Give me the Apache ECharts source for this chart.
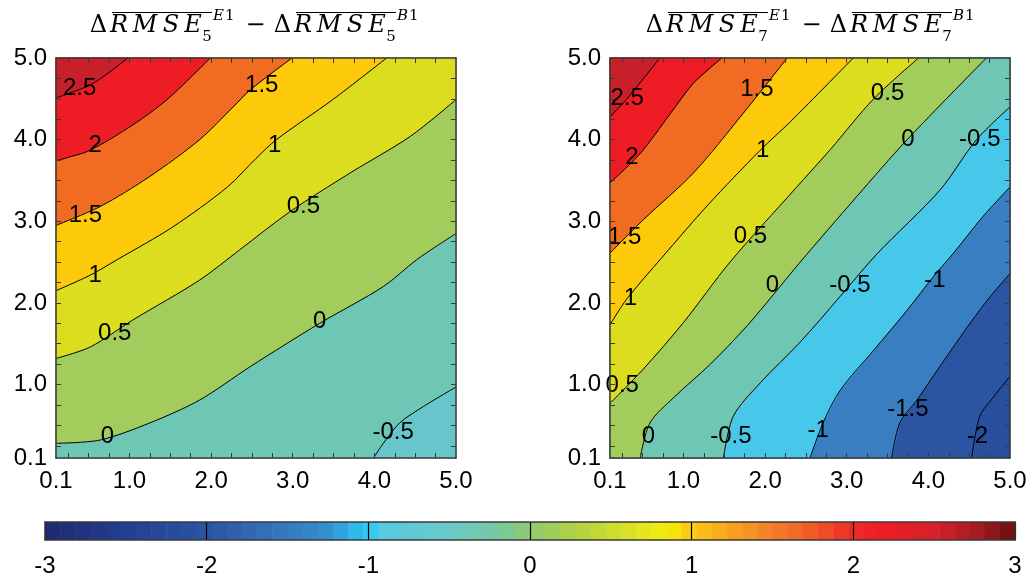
<!DOCTYPE html>
<html>
<head>
<meta charset="utf-8">
<script src="https://cdn.jsdelivr.net/npm/echarts@6/dist/echarts.min.js"></script>
<style>
  html, body { margin: 0; padding: 0; background: #ffffff; }
  #chart { width: 1032px; height: 580px; }
</style>
</head>
<body>
<div id="chart"></div>
<script>
// ---- axis ticks and labels ----
const axisLabelValues = [0.1, 1, 2, 3, 4, 5];
const axisTickValues = [0.25, 0.5, 0.75, 1, 1.25, 1.5, 1.75, 2, 2.25, 2.5, 2.75, 3, 3.25, 3.5, 3.75, 4, 4.25, 4.5, 4.75];
const colorbarLabels = [-3, -2, -1, 0, 1, 2, 3];

// ---- left panel: contour levels, traced contour lines [x, y], band colours ----
const leftLevels = [-0.5, 0, 0.5, 1, 1.5, 2, 2.5];
const leftLines = [
  [[3.99, 0.1], [4.11, 0.28], [4.31, 0.53], [4.6, 0.73], [5.0, 0.97]],
  [[0.1, 0.28], [0.64, 0.32], [1.25, 0.53], [1.86, 0.81], [2.48, 1.22], [3.33, 1.75], [4.11, 2.2], [4.52, 2.53], [5.0, 2.85]],
  [[0.1, 1.32], [0.52, 1.46], [1.04, 1.79], [1.86, 2.28], [2.35, 2.65], [2.97, 3.12], [3.7, 3.59], [4.44, 4.04], [5.0, 4.49]],
  [[0.1, 2.15], [0.52, 2.34], [0.85, 2.53], [1.53, 2.93], [2.2, 3.42], [2.55, 3.77], [2.8, 4.0], [3.49, 4.49], [4.15, 5.0]],
  [[0.1, 2.95], [0.64, 3.18], [1.25, 3.55], [1.86, 4.0], [2.27, 4.4], [2.48, 4.61], [2.99, 5.0]],
  [[0.1, 3.74], [0.24, 3.78], [0.52, 3.87], [1.04, 4.18], [1.46, 4.49], [1.99, 5.0]],
  [[0.1, 4.51], [0.27, 4.57], [0.52, 4.67], [0.76, 4.83], [0.98, 5.0]]
];
const leftBandColors = ['#66C6CC', '#6DC7B4', '#A2CC5B', '#DCDD1F', '#FCCA0A', '#F26B22', '#EE1D25', '#C8202A'];
const leftLabels = [
  [0.39, 4.63, '2.5'], [0.58, 3.93, '2'], [0.46, 3.07, '1.5'], [0.58, 2.34, '1'],
  [0.82, 1.63, '0.5'], [0.73, 0.36, '0'], [2.62, 4.67, '1.5'], [2.78, 3.93, '1'],
  [3.13, 3.18, '0.5'], [3.33, 1.77, '0'], [4.23, 0.41, '-0.5']
];

// ---- right panel ----
const rightLevels = [-2, -1.5, -1, -0.5, 0, 0.5, 1, 1.5, 2, 2.5];
const rightLines = [
  [[4.53, 0.1], [4.63, 0.61], [4.8, 0.85], [5.0, 1.1]],
  [[3.55, 0.1], [3.65, 0.53], [3.86, 0.81], [4.14, 1.22], [4.51, 1.75], [4.76, 2.08], [5.0, 2.36]],
  [[2.55, 0.1], [2.71, 0.53], [2.92, 0.93], [3.33, 1.42], [3.74, 1.91], [4.06, 2.32], [4.3, 2.6], [4.67, 3.06], [5.0, 3.42]],
  [[1.49, 0.1], [1.61, 0.61], [1.94, 1.02], [2.43, 1.52], [2.92, 2.08], [3.37, 2.6], [4.14, 3.38], [4.59, 4.0], [5.0, 4.4]],
  [[0.47, 0.1], [0.59, 0.53], [0.88, 0.84], [1.33, 1.25], [1.78, 1.72], [2.1, 2.1], [2.43, 2.5], [3.12, 3.3], [3.74, 4.0], [4.71, 5.0]],
  [[0.1, 0.77], [0.5, 1.18], [1.0, 1.76], [1.57, 2.5], [2.37, 3.4], [2.8, 3.88], [3.33, 4.5], [3.88, 5.0]],
  [[0.1, 1.73], [0.3, 2.04], [0.74, 2.56], [1.3, 3.2], [1.94, 3.87], [2.31, 4.22], [3.08, 5.0]],
  [[0.1, 2.61], [0.51, 3.02], [1.12, 3.59], [1.73, 4.32], [2.27, 5.0]],
  [[0.1, 3.47], [0.47, 3.83], [0.84, 4.32], [1.12, 4.69], [1.47, 5.0]],
  [[0.1, 4.28], [0.3, 4.49], [0.71, 5.0]]
];
const rightBandColors = ['#2A4E9E', '#2B54A2', '#3A7EC2', '#47C7EA', '#6DC7B4', '#A2CC5B', '#DCDD1F', '#FCCA0A', '#F26B22', '#EE1D25', '#C8202A'];
const rightLabels = [
  [0.31, 4.51, '2.5'], [0.37, 3.78, '2'], [0.28, 2.8, '1.5'], [0.35, 2.06, '1'],
  [0.25, 0.99, '0.5'], [0.57, 0.36, '0'], [1.9, 4.61, '1.5'], [1.97, 3.87, '1'],
  [1.82, 2.82, '0.5'], [2.09, 2.21, '0'], [1.58, 0.36, '-0.5'], [3.5, 4.57, '0.5'],
  [3.75, 4.0, '0'], [4.63, 4.0, '-0.5'], [3.04, 2.22, '-0.5'], [4.08, 2.28, '-1'],
  [2.65, 0.44, '-1'], [3.75, 0.69, '-1.5'], [4.6, 0.36, '-2']
];

// ---- colour bar stops [value, colour] ----
const colorbarStops = [
  [-3.0, '#1F2A6E'], [-2.75, '#22337F'], [-2.5, '#243F91'], [-2.2, '#264C9D'], [-2.0, '#2A55A2'],
  [-1.75, '#3366AE'], [-1.5, '#357ABF'], [-1.25, '#3490D0'], [-1.1, '#2DB4E8'], [-1.0, '#30C8F4'],
  [-0.9, '#55CADF'], [-0.5, '#6CC8C8'], [-0.2, '#76C8A0'], [0.0, '#92CA70'], [0.25, '#AAD048'],
  [0.5, '#CCDC2E'], [0.75, '#EAE81C'], [0.85, '#F6EC08'], [1.0, '#FCC814'], [1.25, '#F8A020'],
  [1.5, '#F47E2A'], [1.75, '#F05A26'], [2.0, '#EE2A26'], [2.2, '#EE1C24'], [2.5, '#D5202A'],
  [2.75, '#A81C22'], [3.0, '#6A1010']
];
const colorbarSteps = 64;

const XMIN = 0.1, XMAX = 5.0, YMIN = 0.1, YMAX = 5.0;
const SANS = 'Liberation Sans';
const SERIF = 'DejaVu Serif';
const FRAME = '#3a3a3a';

function hexToRgb(h) {
  return [parseInt(h.slice(1, 3), 16), parseInt(h.slice(3, 5), 16), parseInt(h.slice(5, 7), 16)];
}
function colorAt(v) {
  for (let i = 0; i < colorbarStops.length - 1; i++) {
    const [v0, c0] = colorbarStops[i], [v1, c1] = colorbarStops[i + 1];
    if (v >= v0 && v <= v1) {
      const t = (v - v0) / (v1 - v0);
      const a = hexToRgb(c0), b = hexToRgb(c1);
      return 'rgb(' + a.map((x, k) => Math.round(x + (b[k] - x) * t)).join(',') + ')';
    }
  }
  return colorbarStops[colorbarStops.length - 1][1];
}

// polygon covering the part of the frame above / left of a contour line
function regionAbove(line) {
  const pts = line.slice();
  const end = line[line.length - 1], start = line[0];
  if (end[0] >= XMAX - 1e-6 && end[1] < YMAX) pts.push([XMAX, YMAX]);
  pts.push([XMIN, YMAX]);
  if (start[1] <= YMIN + 1e-6 && start[0] > XMIN) pts.push([XMIN, YMIN]);
  return pts;
}

function bandSeries(ai, lines, colors) {
  return {
    type: 'custom', xAxisIndex: ai, yAxisIndex: ai, z: 1, silent: true,
    data: colors.map((c, i) => i),
    renderItem(params, api) {
      const i = params.dataIndex;
      const pts = i === 0
        ? [[XMIN, YMIN], [XMAX, YMIN], [XMAX, YMAX], [XMIN, YMAX]]
        : regionAbove(lines[i - 1]);
      return {
        type: 'polygon',
        shape: { points: pts.map(p => api.coord(p)), smooth: 0 },
        style: { fill: colors[i], stroke: colors[i], lineWidth: 0.6 }
      };
    }
  };
}

function lineSeries(ai, lines) {
  return lines.map(pts => ({
    type: 'line', xAxisIndex: ai, yAxisIndex: ai, z: 3, silent: true,
    data: pts, symbol: 'none', showSymbol: false, smooth: 0.3,
    lineStyle: { color: '#000', width: 1 }
  }));
}

function labelSeries(ai, labels) {
  return {
    type: 'custom', xAxisIndex: ai, yAxisIndex: ai, z: 4, silent: true,
    data: labels.map(l => [l[0], l[1]]),
    renderItem(params, api) {
      const p = api.coord([api.value(0), api.value(1)]);
      return {
        type: 'text', x: p[0], y: p[1],
        style: { text: labels[params.dataIndex][2], fontFamily: SANS, fontSize: 24, fill: '#000', align: 'center', verticalAlign: 'middle' }
      };
    }
  };
}

function xAxisFor(gi, position, withLabels) {
  return {
    type: 'value', gridIndex: gi, position, min: XMIN, max: XMAX, z: 10,
    axisLine: { show: true, onZero: false, lineStyle: { color: FRAME, width: 1.5 } },
    axisTick: { show: true, inside: true, length: 5, customValues: axisTickValues, lineStyle: { color: FRAME, width: 1 } },
    axisLabel: { show: withLabels, customValues: axisLabelValues, formatter: v => v.toFixed(1), margin: 11, fontFamily: SANS, fontSize: 24, color: '#000' },
    splitLine: { show: false }
  };
}
function yAxisFor(gi, position, withLabels) {
  return {
    type: 'value', gridIndex: gi, position, min: YMIN, max: YMAX, z: 10,
    axisLine: { show: true, onZero: false, lineStyle: { color: FRAME, width: 1.5 } },
    axisTick: { show: true, inside: true, length: 5, customValues: axisTickValues, lineStyle: { color: FRAME, width: 1 } },
    axisLabel: { show: withLabels, customValues: axisLabelValues, formatter: v => v.toFixed(1), margin: 9, fontFamily: SANS, fontSize: 24, color: '#000' },
    splitLine: { show: false }
  };
}

// title:  Δ overline(RMSE)_n^{E1} − Δ overline(RMSE)_n^{B1}
function titleGraphics(dx, digit) {
  const els = [];
  const txt = (text, x, y, size, italic, align) => els.push({
    type: 'text', x: x + dx, y,
    style: { text, fontFamily: SERIF, fontSize: size, fontStyle: italic ? 'italic' : 'normal', fill: '#000', align: align || 'center', verticalAlign: 'middle' }
  });
  const term = (ox, sup) => {
    txt('\u0394', 98.5 + ox, 26, 24, false);
    txt('R', 119 + ox, 26, 24, true);
    txt('M', 145 + ox, 26, 24, true);
    txt('S', 171 + ox, 26, 24, true);
    txt('E', 193 + ox, 26, 24, true);
    txt(digit, 207 + ox, 37, 15, false);
    txt(sup[0], 213 + ox, 16, 15, true, 'left');
    txt(sup[1], 225 + ox, 16, 15, false, 'left');
    els.push({ type: 'line', shape: { x1: 112 + ox + dx, y1: 12.5, x2: 212 + ox + dx, y2: 12.5 }, style: { stroke: '#000', lineWidth: 1 } });
  };
  term(0, 'E1');
  txt('\u2212', 255.5, 26, 24, false);
  term(184, 'B1');
  return els;
}

const chart = echarts.init(document.getElementById('chart'), null, { renderer: 'canvas' });

const option = {
  animation: false,
  backgroundColor: '#ffffff',
  grid: [
    { left: 56, top: 58, width: 400, height: 400 },
    { left: 610, top: 58, width: 400, height: 400 },
    { left: 45, top: 522, width: 970, height: 18 }
  ],
  xAxis: [
    xAxisFor(0, 'bottom', true),
    xAxisFor(1, 'bottom', true),
    xAxisFor(0, 'top', false),
    xAxisFor(1, 'top', false),
    {
      type: 'value', gridIndex: 2, position: 'bottom', min: -3, max: 3, interval: 1, z: 10,
      axisLine: { show: true, onZero: false, lineStyle: { color: FRAME, width: 1.5 } },
      axisTick: { show: false },
      axisLabel: { show: true, customValues: colorbarLabels, margin: 14, fontFamily: SANS, fontSize: 24, color: '#000' },
      splitLine: { show: true, lineStyle: { color: '#000', width: 1.2 } }
    },
    {
      type: 'value', gridIndex: 2, position: 'top', min: -3, max: 3, z: 10,
      axisLine: { show: true, onZero: false, lineStyle: { color: FRAME, width: 1.5 } },
      axisTick: { show: false }, axisLabel: { show: false }, splitLine: { show: false }
    }
  ],
  yAxis: [
    yAxisFor(0, 'left', true),
    yAxisFor(1, 'left', true),
    yAxisFor(0, 'right', false),
    yAxisFor(1, 'right', false),
    {
      type: 'value', gridIndex: 2, position: 'left', min: 0, max: 1, z: 10,
      axisLine: { show: true, onZero: false, lineStyle: { color: FRAME, width: 1.5 } },
      axisTick: { show: false }, axisLabel: { show: false }, splitLine: { show: false }
    },
    {
      type: 'value', gridIndex: 2, position: 'right', min: 0, max: 1, z: 10,
      axisLine: { show: true, onZero: false, lineStyle: { color: FRAME, width: 1.5 } },
      axisTick: { show: false }, axisLabel: { show: false }, splitLine: { show: false }
    }
  ],
  series: [
    bandSeries(0, leftLines, leftBandColors),
    ...lineSeries(0, leftLines),
    labelSeries(0, leftLabels),
    bandSeries(1, rightLines, rightBandColors),
    ...lineSeries(1, rightLines),
    labelSeries(1, rightLabels),
    {
      type: 'custom', xAxisIndex: 4, yAxisIndex: 4, z: 1, silent: true,
      data: Array.from({ length: colorbarSteps }, (_, i) => i),
      renderItem(params, api) {
        const i = params.dataIndex;
        const w = 6 / colorbarSteps;
        const v0 = -3 + i * w, v1 = v0 + w;
        const a = api.coord([v0, 1]), b = api.coord([v1, 0]);
        const c = colorAt((v0 + v1) / 2);
        return {
          type: 'rect',
          shape: { x: a[0], y: a[1], width: b[0] - a[0] + 0.5, height: b[1] - a[1] },
          style: { fill: c }
        };
      }
    }
  ],
  graphic: [...titleGraphics(0, '5'), ...titleGraphics(556, '7')]
};

chart.setOption(option);
</script>
</body>
</html>
